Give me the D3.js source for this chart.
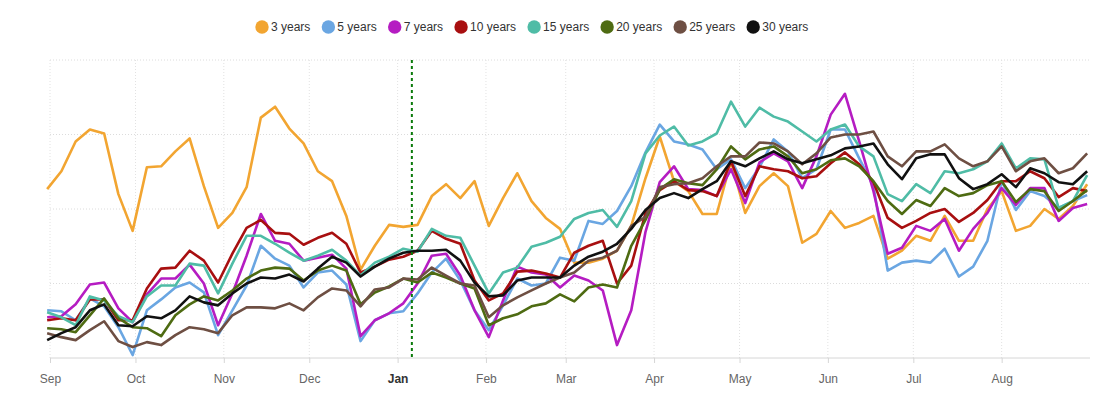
<!DOCTYPE html>
<html>
<head>
<meta charset="utf-8">
<script src="https://cdn.jsdelivr.net/npm/d3@7"></script>
<style>
  body { margin: 0; background: #fff; font-family: "Liberation Sans", Arial, sans-serif; }
</style>
</head>
<body>
<div id="chart"></div>
<script>
// Series names and colours
const seriesNames = ['3 years', '5 years', '7 years', '10 years', '15 years', '20 years', '25 years', '30 years'];
const seriesColors = ['#f2a531', '#6aa6e2', '#b51cc2', '#a80f10', '#4fbca6', '#4e6b12', '#6e4f43', '#111111'];

// One reading every 5 days, starting 31 Aug 2022
const startDate = new Date(2022, 7, 31);
const stepDays = 5;
const markerDate = new Date(2023, 0, 6);
const gridValues = [75, 150, 225, 300];

const y3 = [170, 188, 218, 230, 226, 165, 128, 192, 193, 208, 221, 173, 131, 146, 172, 242, 253, 231, 216, 188, 178, 143, 89, 113, 134, 132, 134, 163, 175, 161, 178, 133, 161, 186, 158, 141, 130, 96, 96, 100, 108, 133, 181, 223, 178, 168, 145, 145, 198, 146, 173, 186, 173, 116, 125, 148, 131, 136, 143, 100, 108, 123, 118, 143, 118, 118, 150, 168, 128, 133, 150, 140, 153, 175];
const y5 = [48, 47, 38, 60, 52, 31, 3, 48, 59, 71, 76, 66, 23, 48, 73, 113, 100, 93, 71, 86, 88, 74, 17, 38, 45, 47, 65, 86, 100, 78, 48, 28, 53, 80, 73, 75, 101, 98, 138, 135, 148, 173, 207, 235, 218, 215, 210, 190, 200, 171, 192, 220, 208, 181, 190, 230, 230, 201, 173, 88, 96, 98, 96, 110, 82, 92, 118, 178, 149, 168, 163, 151, 158, 164];
const y7 = [41, 42, 54, 74, 76, 50, 36, 64, 80, 80, 94, 75, 33, 65, 103, 145, 118, 115, 98, 101, 104, 90, 22, 38, 45, 55, 75, 103, 105, 83, 48, 21, 58, 92, 86, 84, 71, 83, 78, 68, 13, 48, 127, 177, 193, 170, 169, 163, 190, 156, 197, 206, 198, 171, 203, 245, 266, 218, 168, 105, 111, 133, 128, 140, 108, 130, 146, 171, 154, 171, 171, 138, 151, 155];
const y10 = [38, 40, 38, 59, 59, 38, 38, 70, 90, 91, 108, 98, 76, 105, 131, 139, 126, 125, 114, 121, 126, 115, 86, 92, 99, 102, 108, 128, 120, 115, 78, 58, 65, 87, 88, 85, 81, 106, 113, 118, 75, 93, 146, 169, 178, 169, 168, 163, 198, 163, 193, 190, 188, 181, 183, 196, 207, 195, 177, 141, 131, 138, 146, 150, 137, 146, 159, 178, 178, 188, 181, 162, 171, 168];
const y15 = [46, 41, 33, 62, 58, 42, 36, 62, 73, 73, 95, 93, 65, 95, 123, 123, 115, 106, 98, 103, 109, 98, 83, 96, 102, 110, 107, 130, 123, 121, 93, 65, 86, 91, 112, 116, 122, 140, 146, 149, 132, 158, 206, 224, 233, 214, 218, 226, 258, 233, 252, 243, 238, 228, 218, 230, 235, 213, 203, 165, 158, 175, 166, 188, 186, 190, 198, 216, 191, 201, 200, 151, 158, 184];
const y20 = [30, 29, 26, 43, 60, 40, 31, 30, 22, 43, 54, 62, 58, 68, 80, 88, 91, 90, 78, 88, 93, 88, 54, 66, 72, 80, 76, 86, 81, 75, 70, 33, 40, 44, 52, 55, 64, 57, 71, 74, 71, 113, 139, 170, 180, 176, 174, 190, 213, 200, 210, 213, 203, 186, 190, 199, 201, 193, 178, 158, 145, 159, 153, 171, 163, 166, 174, 178, 157, 170, 168, 148, 158, 169];
const y25 = [25, 21, 18, 28, 37, 17, 11, 16, 13, 23, 31, 29, 25, 43, 51, 51, 50, 55, 48, 61, 70, 68, 52, 69, 71, 80, 79, 91, 83, 75, 73, 41, 53, 61, 68, 75, 81, 86, 98, 101, 108, 133, 142, 172, 175, 176, 181, 193, 203, 203, 217, 216, 208, 195, 206, 222, 225, 225, 228, 203, 193, 208, 208, 215, 201, 193, 198, 213, 188, 198, 201, 186, 191, 206];
const y30 = [18, 25, 31, 48, 54, 33, 32, 42, 40, 48, 62, 56, 53, 65, 75, 81, 80, 84, 77, 90, 102, 96, 82, 92, 100, 106, 108, 108, 109, 98, 76, 62, 63, 78, 81, 81, 81, 93, 102, 107, 115, 130, 149, 161, 166, 161, 170, 178, 198, 193, 201, 208, 200, 196, 200, 204, 211, 213, 216, 195, 180, 201, 205, 205, 181, 170, 175, 185, 172, 191, 186, 177, 175, 188];

const seriesValues = [y3, y5, y7, y10, y15, y20, y25, y30];

const width = 1110;
const height = 394;
const margin = { top: 60, right: 20, bottom: 36, left: 50 };
const plotRight = 1090;
const plotBottom = 358;

const svg = d3.select('#chart')
  .append('svg')
  .attr('width', width)
  .attr('height', height);

const dates = y3.map((d, i) => d3.timeDay.offset(startDate, i * stepDays));

// Scales
const x = d3.scaleTime()
  .domain([new Date(2022, 8, 1), new Date(2023, 8, 1)])
  .range([margin.left, plotRight]);

const y = d3.scaleLinear()
  .domain([0, 300])
  .range([plotBottom, margin.top]);

// Horizontal grid
svg.append('g')
  .selectAll('line')
  .data(gridValues)
  .enter()
  .append('line')
  .attr('x1', margin.left)
  .attr('x2', plotRight)
  .attr('y1', d => y(d))
  .attr('y2', d => y(d))
  .attr('stroke', '#dcdcdc')
  .attr('stroke-dasharray', '1,2');

// Vertical grid at month starts
const months = x.ticks(d3.timeMonth.every(1)).filter(d => d < new Date(2023, 8, 1));
svg.append('g')
  .selectAll('line')
  .data(months)
  .enter()
  .append('line')
  .attr('x1', d => x(d))
  .attr('x2', d => x(d))
  .attr('y1', margin.top)
  .attr('y2', plotBottom)
  .attr('stroke', '#e2e2e2')
  .attr('stroke-dasharray', '1,2');

// X axis
const xAxis = svg.append('g')
  .attr('transform', `translate(0, ${plotBottom})`)
  .call(d3.axisBottom(x)
    .tickValues(months)
    .tickSize(5)
    .tickPadding(11)
    .tickFormat(d3.timeFormat('%b')));

xAxis.select('.domain')
  .attr('stroke', '#d6d6d6')
  .attr('d', `M${margin.left},0H${plotRight}`);
xAxis.selectAll('.tick line').attr('stroke', '#d6d6d6');
xAxis.selectAll('.tick text')
  .style('font-size', '12px')
  .style('font-family', '"Liberation Sans", Arial, sans-serif')
  .style('font-weight', d => d.getMonth() === 0 ? 'bold' : 'normal')
  .attr('fill', d => d.getMonth() === 0 ? '#333' : '#666');

// Lines
const line = d3.line()
  .x((d, i) => x(dates[i]))
  .y(d => y(d));

svg.append('g')
  .selectAll('path')
  .data(seriesValues)
  .enter()
  .append('path')
  .attr('fill', 'none')
  .attr('stroke', (d, i) => seriesColors[i])
  .attr('stroke-width', 2.6)
  .attr('stroke-linejoin', 'round')
  .attr('d', d => line(d));

// Marker line
svg.append('line')
  .attr('x1', x(markerDate))
  .attr('x2', x(markerDate))
  .attr('y1', margin.top)
  .attr('y2', plotBottom)
  .attr('stroke', '#0a7a0a')
  .attr('stroke-width', 2)
  .attr('stroke-dasharray', '3,3');

// Legend
const legend = svg.append('g').attr('transform', 'translate(0, 27)');
let cursor = 255;
seriesNames.forEach((name, i) => {
  legend.append('circle')
    .attr('cx', cursor + 7)
    .attr('cy', 0)
    .attr('r', 6.7)
    .attr('fill', seriesColors[i]);
  const t = legend.append('text')
    .attr('x', cursor + 16)
    .attr('y', 0)
    .attr('dy', '0.35em')
    .attr('font-size', '12px')
    .attr('fill', '#333')
    .text(name);
  cursor += 16 + t.node().getComputedTextLength() + 11;
});
</script>
</body>
</html>
